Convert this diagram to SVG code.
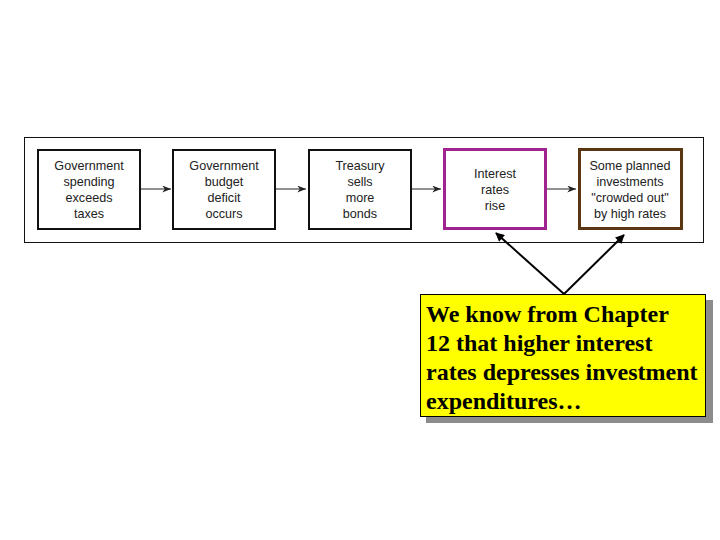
<svg xmlns="http://www.w3.org/2000/svg" width="720" height="540" viewBox="0 0 720 540">
<style>
.box{fill:#fff;stroke:#111;stroke-width:2}
.t{font-family:"Liberation Sans",Arial,sans-serif;font-size:12.6px;fill:#222;text-anchor:middle}
.c{font-family:"Liberation Serif","Times New Roman",serif;font-size:24px;font-weight:bold;fill:#000}
.ln{stroke:#222;stroke-width:1;fill:none}
.ca{stroke:#000;stroke-width:2;fill:none}
</style>
<defs>
<marker id="ah" viewBox="0 0 10 8" refX="10" refY="4" markerWidth="9" markerHeight="7" orient="auto" markerUnits="userSpaceOnUse">
<path d="M0,0 L10,4 L0,8 L3,4 Z" fill="#222"/>
</marker>
<marker id="bh" viewBox="0 0 10 10" refX="9" refY="5" markerWidth="10" markerHeight="9" orient="auto" markerUnits="userSpaceOnUse">
<path d="M0,0 L10,5 L0,10 Z" fill="#000"/>
</marker>
</defs>
<rect width="720" height="540" fill="#fff"/>
<rect x="24.5" y="137.5" width="679" height="105" fill="#fff" stroke="#111" stroke-width="1"/>
<g id="connectors">
<line class="ln" x1="140" y1="189" x2="171" y2="189" marker-end="url(#ah)"/>
<line class="ln" x1="275" y1="189" x2="306" y2="189" marker-end="url(#ah)"/>
<line class="ln" x1="411" y1="189" x2="441" y2="189" marker-end="url(#ah)"/>
<line class="ln" x1="547" y1="189" x2="576" y2="189" marker-end="url(#ah)"/>
<line class="ca" x1="564" y1="294" x2="496" y2="233" marker-end="url(#bh)"/>
<line class="ca" x1="564" y1="294" x2="624" y2="235" marker-end="url(#bh)"/>
</g>
<g id="n1">
<rect class="box" x="38" y="150" width="102" height="79"/>
<text class="t" x="89" y="170">Government</text>
<text class="t" x="89" y="186">spending</text>
<text class="t" x="89" y="202">exceeds</text>
<text class="t" x="89" y="218">taxes</text>
</g>
<g id="n2">
<rect class="box" x="173" y="150" width="102" height="79"/>
<text class="t" x="224" y="170">Government</text>
<text class="t" x="224" y="186">budget</text>
<text class="t" x="224" y="202">deficit</text>
<text class="t" x="224" y="218">occurs</text>
</g>
<g id="n3">
<rect class="box" x="309" y="150" width="102" height="79"/>
<text class="t" x="360" y="170">Treasury</text>
<text class="t" x="360" y="186">sells</text>
<text class="t" x="360" y="202">more</text>
<text class="t" x="360" y="218">bonds</text>
</g>
<g id="n4">
<rect x="444.5" y="149.5" width="101" height="79" fill="#fff" stroke="#a0238f" stroke-width="3"/>
<text class="t" x="495" y="178">Interest</text>
<text class="t" x="495" y="194">rates</text>
<text class="t" x="495" y="210">rise</text>
</g>
<g id="n5">
<rect x="579.5" y="149.5" width="102" height="79" fill="#fff" stroke="#5a3613" stroke-width="3"/>
<text class="t" x="630" y="170">Some planned</text>
<text class="t" x="630" y="186">investments</text>
<text class="t" x="630" y="202">"crowded out"</text>
<text class="t" x="630" y="218">by high rates</text>
</g>
<g id="callout">
<rect x="426" y="300" width="287" height="123" fill="#8c8c8c"/>
<rect x="420.5" y="294.5" width="285" height="122" fill="#ffff00" stroke="#000" stroke-width="1"/>
<text class="c" x="426" y="322">We know from Chapter</text>
<text class="c" x="426" y="351">12 that higher interest</text>
<text class="c" x="426" y="380">rates depresses investment</text>
<text class="c" x="426" y="409">expenditures…</text>
</g>
</svg>
